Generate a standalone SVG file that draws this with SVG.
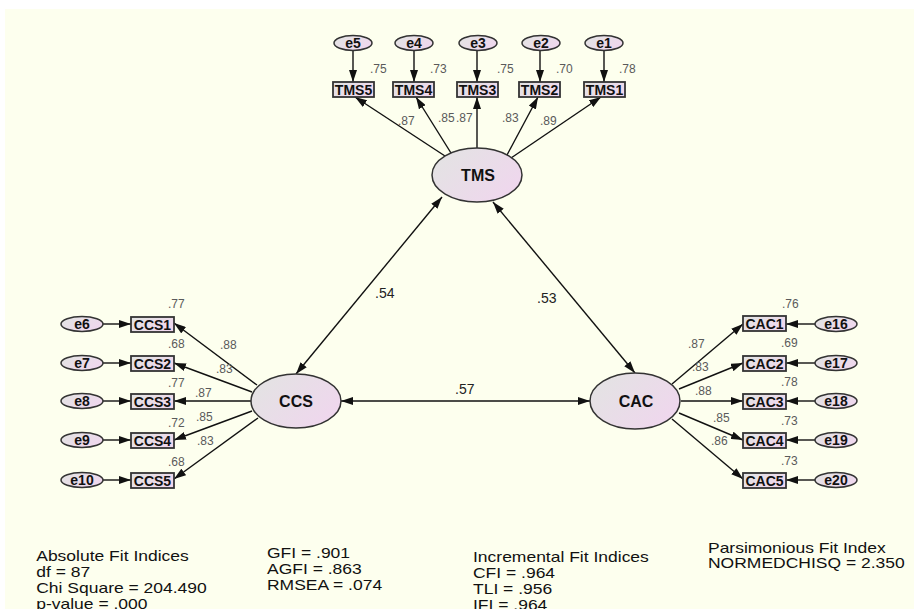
<svg xmlns="http://www.w3.org/2000/svg" width="914" height="609" viewBox="0 0 914 609">
<defs>
<linearGradient id="gf" x1="0" y1="0.2" x2="1" y2="0.8">
<stop offset="0" stop-color="#e3e3e3"/>
<stop offset="1" stop-color="#f0d6ee"/>
</linearGradient>
<marker id="ah" viewBox="0 0 12 8" refX="12" refY="4" markerWidth="12" markerHeight="8" markerUnits="userSpaceOnUse" orient="auto-start-reverse">
<path d="M0,0 L12,4 L0,8 z" fill="#111"/>
</marker>
<style>
.bg{fill:#fdffee}
.lat{fill:url(#gf);stroke:#333;stroke-width:1.5}
.err{fill:url(#gf);stroke:#333;stroke-width:1.5}
.box{fill:url(#gf);stroke:#333;stroke-width:1.8}
.lt{font-family:"Liberation Sans",Arial,sans-serif;font-weight:bold;font-size:16px;fill:#111;text-anchor:middle}
.et{font-family:"Liberation Sans",Arial,sans-serif;font-weight:bold;font-size:14px;fill:#111;text-anchor:middle}
.bt{font-family:"Liberation Sans",Arial,sans-serif;font-weight:bold;font-size:14px;fill:#111;text-anchor:middle}
.num{font-family:"Liberation Sans",Arial,sans-serif;font-size:12px;fill:#5a5a5a}
.cov{font-family:"Liberation Sans",Arial,sans-serif;font-size:14px;fill:#222}
.fit{font-family:"Liberation Sans",Arial,sans-serif;font-size:14px;fill:#111}
.c{stroke:#111;stroke-width:1.4;fill:none;marker-end:url(#ah)}
.d{stroke:#111;stroke-width:1.4;fill:none;marker-end:url(#ah);marker-start:url(#ah)}
</style>
</defs>
<rect x="0" y="0" width="914" height="609" fill="#ffffff"/>
<rect class="bg" x="5" y="9" width="909" height="600"/>

<g id="connectors">
<line class="c" x1="353" y1="50" x2="353" y2="82"/>
<line class="c" x1="414" y1="50" x2="414" y2="82"/>
<line class="c" x1="477" y1="50" x2="477" y2="82"/>
<line class="c" x1="540" y1="50" x2="540" y2="82"/>
<line class="c" x1="604" y1="50" x2="604" y2="82"/>
<line class="c" x1="445" y1="156" x2="355" y2="97"/>
<line class="c" x1="451" y1="153" x2="416" y2="97"/>
<line class="c" x1="477" y1="148" x2="477" y2="97"/>
<line class="c" x1="507" y1="155" x2="538" y2="97"/>
<line class="c" x1="511" y1="158" x2="601" y2="97"/>
<line class="c" x1="103" y1="324" x2="131" y2="324"/>
<line class="c" x1="103" y1="363" x2="131" y2="363"/>
<line class="c" x1="103" y1="401" x2="131" y2="401"/>
<line class="c" x1="103" y1="440" x2="131" y2="440"/>
<line class="c" x1="103" y1="480" x2="131" y2="480"/>
<line class="c" x1="257" y1="385" x2="174" y2="323"/>
<line class="c" x1="252" y1="392" x2="174" y2="363"/>
<line class="c" x1="251" y1="401" x2="174" y2="401"/>
<line class="c" x1="252" y1="411" x2="174" y2="440"/>
<line class="c" x1="258" y1="418" x2="174" y2="479"/>
<line class="c" x1="815" y1="324" x2="786" y2="324"/>
<line class="c" x1="815" y1="363" x2="786" y2="363"/>
<line class="c" x1="815" y1="401" x2="786" y2="401"/>
<line class="c" x1="815" y1="440" x2="786" y2="440"/>
<line class="c" x1="815" y1="480" x2="786" y2="480"/>
<line class="c" x1="672" y1="384" x2="743" y2="324"/>
<line class="c" x1="679" y1="389" x2="743" y2="363"/>
<line class="c" x1="681" y1="401" x2="743" y2="401"/>
<line class="c" x1="679" y1="413" x2="743" y2="440"/>
<line class="c" x1="672" y1="419" x2="743" y2="479"/>
<line class="d" x1="296" y1="374" x2="442" y2="197"/>
<line class="d" x1="635" y1="373" x2="493" y2="202"/>
<line class="d" x1="341" y1="401" x2="590" y2="401"/>
</g>

<g id="TMS"><ellipse class="lat" cx="477" cy="175" rx="45" ry="27"/><text class="lt" x="478" y="181">TMS</text></g>
<g id="CCS"><ellipse class="lat" cx="296" cy="401" rx="45" ry="27"/><text class="lt" x="296" y="407">CCS</text></g>
<g id="CAC"><ellipse class="lat" cx="635" cy="401" rx="45" ry="28"/><text class="lt" x="636" y="407">CAC</text></g>

<g id="TMS5"><rect class="box" x="333" y="82" width="41" height="15"/><text class="bt" x="353.5" y="94.5">TMS5</text></g>
<g id="TMS4"><rect class="box" x="393" y="82" width="41" height="15"/><text class="bt" x="413.5" y="94.5">TMS4</text></g>
<g id="TMS3"><rect class="box" x="457" y="82" width="41" height="15"/><text class="bt" x="477.5" y="94.5">TMS3</text></g>
<g id="TMS2"><rect class="box" x="519" y="82" width="41" height="15"/><text class="bt" x="539.5" y="94.5">TMS2</text></g>
<g id="TMS1"><rect class="box" x="584" y="82" width="41" height="15"/><text class="bt" x="604.5" y="94.5">TMS1</text></g>

<g id="e5"><ellipse class="err" cx="353" cy="43" rx="19" ry="7.5"/><text class="et" x="353" y="48">e5</text></g>
<g id="e4"><ellipse class="err" cx="414" cy="43" rx="19" ry="7.5"/><text class="et" x="414" y="48">e4</text></g>
<g id="e3"><ellipse class="err" cx="478" cy="43" rx="19" ry="7.5"/><text class="et" x="478" y="48">e3</text></g>
<g id="e2"><ellipse class="err" cx="541" cy="43" rx="19" ry="7.5"/><text class="et" x="541" y="48">e2</text></g>
<g id="e1"><ellipse class="err" cx="604" cy="43" rx="19" ry="7.5"/><text class="et" x="604" y="48">e1</text></g>

<g id="CCS1"><rect class="box" x="131" y="317" width="43" height="15"/><text class="bt" x="152.5" y="329.5">CCS1</text></g>
<g id="CCS2"><rect class="box" x="131" y="356" width="43" height="15"/><text class="bt" x="152.5" y="368.5">CCS2</text></g>
<g id="CCS3"><rect class="box" x="131" y="394" width="43" height="15"/><text class="bt" x="152.5" y="406.5">CCS3</text></g>
<g id="CCS4"><rect class="box" x="131" y="433" width="43" height="15"/><text class="bt" x="152.5" y="445.5">CCS4</text></g>
<g id="CCS5"><rect class="box" x="131" y="473" width="43" height="15"/><text class="bt" x="152.5" y="485.5">CCS5</text></g>

<g id="e6"><ellipse class="err" cx="82" cy="324" rx="21" ry="7.5"/><text class="et" x="82" y="329">e6</text></g>
<g id="e7"><ellipse class="err" cx="82" cy="363" rx="21" ry="7.5"/><text class="et" x="82" y="368">e7</text></g>
<g id="e8"><ellipse class="err" cx="82" cy="401" rx="21" ry="7.5"/><text class="et" x="82" y="406">e8</text></g>
<g id="e9"><ellipse class="err" cx="82" cy="440" rx="21" ry="7.5"/><text class="et" x="82" y="445">e9</text></g>
<g id="e10"><ellipse class="err" cx="82" cy="480" rx="21" ry="7.5"/><text class="et" x="82" y="485">e10</text></g>

<g id="CAC1"><rect class="box" x="743" y="316" width="43" height="15"/><text class="bt" x="764.5" y="328.5">CAC1</text></g>
<g id="CAC2"><rect class="box" x="743" y="356" width="43" height="15"/><text class="bt" x="764.5" y="368.5">CAC2</text></g>
<g id="CAC3"><rect class="box" x="743" y="394" width="43" height="15"/><text class="bt" x="764.5" y="406.5">CAC3</text></g>
<g id="CAC4"><rect class="box" x="743" y="433" width="43" height="15"/><text class="bt" x="764.5" y="445.5">CAC4</text></g>
<g id="CAC5"><rect class="box" x="743" y="473" width="43" height="15"/><text class="bt" x="764.5" y="485.5">CAC5</text></g>

<g id="e16"><ellipse class="err" cx="836" cy="324" rx="21" ry="7.5"/><text class="et" x="836" y="329">e16</text></g>
<g id="e17"><ellipse class="err" cx="836" cy="363" rx="21" ry="7.5"/><text class="et" x="836" y="368">e17</text></g>
<g id="e18"><ellipse class="err" cx="836" cy="401" rx="21" ry="7.5"/><text class="et" x="836" y="406">e18</text></g>
<g id="e19"><ellipse class="err" cx="836" cy="440" rx="21" ry="7.5"/><text class="et" x="836" y="445">e19</text></g>
<g id="e20"><ellipse class="err" cx="836" cy="480" rx="21" ry="7.5"/><text class="et" x="836" y="485">e20</text></g>

<g id="labels">
<text class="num" x="370" y="73">.75</text>
<text class="num" x="430" y="73">.73</text>
<text class="num" x="497" y="73">.75</text>
<text class="num" x="556" y="73">.70</text>
<text class="num" x="619" y="73">.78</text>
<text class="num" x="398" y="125">.87</text>
<text class="num" x="438" y="122">.85</text>
<text class="num" x="456" y="122">.87</text>
<text class="num" x="502" y="122">.83</text>
<text class="num" x="540" y="125">.89</text>
<text class="num" x="168" y="308">.77</text>
<text class="num" x="168" y="348">.68</text>
<text class="num" x="168" y="387">.77</text>
<text class="num" x="168" y="427">.72</text>
<text class="num" x="168" y="466">.68</text>
<text class="num" x="220" y="349">.88</text>
<text class="num" x="216" y="373">.83</text>
<text class="num" x="195" y="397">.87</text>
<text class="num" x="196" y="421">.85</text>
<text class="num" x="197" y="445">.83</text>
<text class="num" x="782" y="308">.76</text>
<text class="num" x="781" y="347">.69</text>
<text class="num" x="781" y="386">.78</text>
<text class="num" x="781" y="425">.73</text>
<text class="num" x="781" y="465">.73</text>
<text class="num" x="688" y="348">.87</text>
<text class="num" x="692" y="371">.83</text>
<text class="num" x="695" y="395">.88</text>
<text class="num" x="713" y="422">.85</text>
<text class="num" x="711" y="445">.86</text>
<text class="cov" x="375" y="298">.54</text>
<text class="cov" x="537" y="303">.53</text>
<text class="cov" x="455" y="394">.57</text>
</g>

<g id="fit" transform="scale(1.25,1)">
<text class="fit" x="29" y="561">Absolute Fit Indices</text>
<text class="fit" x="29" y="577">df = 87</text>
<text class="fit" x="29" y="593">Chi Square = 204.490</text>
<text class="fit" x="29" y="609">p-value = .000</text>
<text class="fit" x="213.6" y="558">GFI = .901</text>
<text class="fit" x="213.6" y="574">AGFI = .863</text>
<text class="fit" x="213.6" y="590">RMSEA = .074</text>
<text class="fit" x="378.4" y="562">Incremental Fit Indices</text>
<text class="fit" x="378.4" y="578">CFI = .964</text>
<text class="fit" x="378.4" y="594">TLI = .956</text>
<text class="fit" x="378.4" y="610">IFI = .964</text>
<text class="fit" x="566.4" y="553">Parsimonious Fit Index</text>
<text class="fit" x="566.4" y="568">NORMEDCHISQ = 2.350</text>
</g>
</svg>
